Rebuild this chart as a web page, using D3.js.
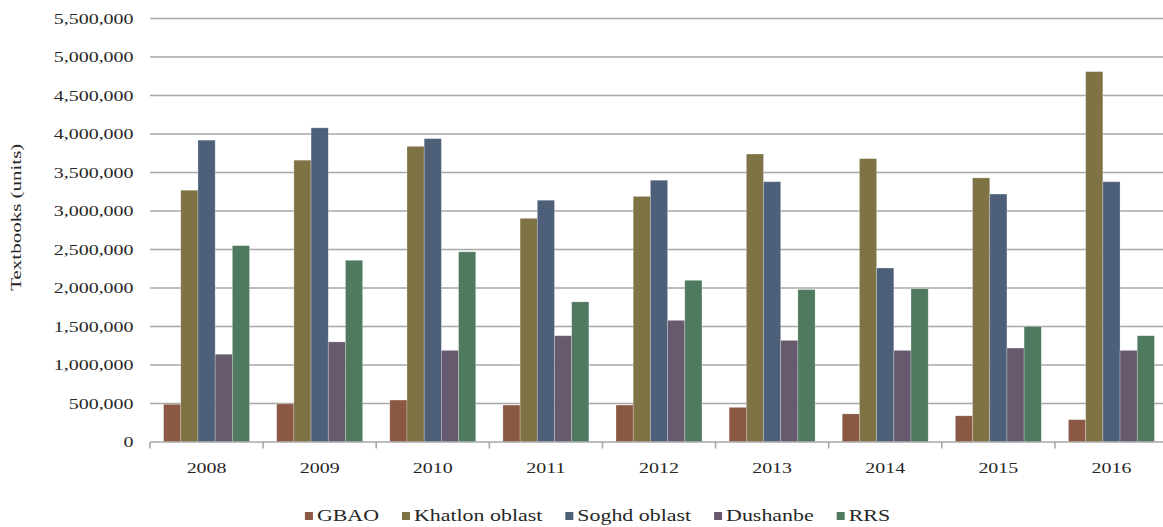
<!DOCTYPE html>
<html>
<head>
<meta charset="utf-8">
<script src="https://cdn.jsdelivr.net/npm/d3@7/dist/d3.min.js"></script>
<style>
  html, body { margin: 0; padding: 0; background: #fff; }
  svg { display: block; }
  text { font-family: "Liberation Serif", "Times New Roman", serif; fill: #262626; }
</style>
</head>
<body>
<svg id="chart" width="1163" height="527"></svg>
<script>
// Textbooks distributed per region, 2008–2016
const years = ["2008", "2009", "2010", "2011", "2012", "2013", "2014", "2015", "2016"];
const seriesNames = ["GBAO", "Khatlon oblast", "Soghd oblast", "Dushanbe", "RRS"];
const seriesColors = ["#8a5843", "#7f7346", "#4e6079", "#675a6e", "#4f7a5f"];

const gbao     = [490000, 495000, 545000, 480000, 480000, 450000, 365000, 340000, 290000];
const khatlon  = [3270000, 3660000, 3840000, 2905000, 3190000, 3740000, 3680000, 3430000, 4810000];
const soghd    = [3920000, 4080000, 3940000, 3140000, 3400000, 3380000, 2260000, 3220000, 3380000];
const dushanbe = [1140000, 1300000, 1190000, 1380000, 1580000, 1320000, 1190000, 1220000, 1190000];
const rrs      = [2550000, 2360000, 2470000, 1820000, 2100000, 1980000, 1990000, 1500000, 1380000];

const yTicks = [0, 500000, 1000000, 1500000, 2000000, 2500000, 3000000, 3500000, 4000000, 4500000, 5000000, 5500000];
const yTitle = "Textbooks (units)";

const seriesValues = [gbao, khatlon, soghd, dushanbe, rrs];

const svg = d3.select("#chart");
const W = 1163, H = 527;
const plot = { left: 150, right: 1168, top: 18.5, bottom: 442 };

const x0 = d3.scaleBand().domain(years).range([plot.left, plot.right]).paddingInner(0).paddingOuter(0);
const x1 = d3.scaleBand().domain(seriesNames).range([0, x0.bandwidth()]).paddingInner(0).paddingOuter(0.79);
const y = d3.scaleLinear().domain([0, 5500000]).range([plot.bottom, plot.top]);
const color = d3.scaleOrdinal().domain(seriesNames).range(seriesColors);
const fmt = d3.format(",");

const clip = svg.append("defs").append("clipPath").attr("id", "frame")
  .append("rect").attr("x", 0).attr("y", 0).attr("width", W).attr("height", H);

const root = svg.append("g").attr("clip-path", "url(#frame)");

// horizontal gridlines
root.append("g").selectAll("line").data(yTicks.filter(d => d > 0)).join("line")
  .attr("x1", plot.left).attr("x2", plot.right)
  .attr("y1", d => y(d)).attr("y2", d => y(d))
  .attr("stroke", "#a8a8a8").attr("stroke-width", 1.6);

// y tick labels (wide serif)
root.append("g").selectAll("text").data(yTicks).join("text")
  .attr("transform", d => `translate(133.5,${y(d)}) scale(1.33,1)`)
  .attr("text-anchor", "end").attr("dy", "0.35em")
  .style("font-size", "15px")
  .text(d => fmt(d));

// y axis title
root.append("text")
  .attr("transform", `translate(21,${(plot.top + plot.bottom) / 2 - 13}) rotate(-90) scale(1.4,1)`)
  .attr("text-anchor", "middle")
  .style("font-size", "15px")
  .text(yTitle);

// bars
const rows = years.map((yr, i) => ({ year: yr, values: seriesNames.map((s, k) => ({ series: s, value: seriesValues[k][i] })) }));
root.append("g").selectAll("g").data(rows).join("g")
  .attr("transform", d => `translate(${x0(d.year)},0)`)
  .selectAll("rect").data(d => d.values).join("rect")
  .attr("x", d => x1(d.series))
  .attr("width", x1.bandwidth())
  .attr("y", d => y(d.value))
  .attr("height", d => y(0) - y(d.value))
  .attr("fill", d => color(d.series))
  .attr("stroke", "rgba(255,255,255,0.35)")
  .attr("stroke-width", 0.7);

// x axis baseline and category ticks
root.append("line")
  .attr("x1", plot.left).attr("x2", plot.right)
  .attr("y1", y(0)).attr("y2", y(0))
  .attr("stroke", "#a8a8a8").attr("stroke-width", 1.6);

const boundaries = years.map(yr => x0(yr)).concat([x0(years[years.length - 1]) + x0.bandwidth()]);
root.append("g").selectAll("line").data(boundaries).join("line")
  .attr("x1", d => d).attr("x2", d => d)
  .attr("y1", y(0)).attr("y2", y(0) + 6.5)
  .attr("stroke", "#a8a8a8").attr("stroke-width", 1.6);

root.append("g").selectAll("text").data(years).join("text")
  .attr("transform", d => `translate(${x0(d) + x0.bandwidth() / 2},468) scale(1.33,1)`)
  .attr("text-anchor", "middle").attr("dy", "0.35em")
  .style("font-size", "15px")
  .text(d => d);

// legend, laid out from measured label widths and centred
const legend = root.append("g");
const sq = 8, sqGap = 4, itemGap = 23, lScale = 1.37;
const items = seriesNames.map(name => {
  const g = legend.append("g");
  g.append("rect").attr("width", sq).attr("height", sq).attr("y", -sq / 2 + 1).attr("fill", color(name));
  const t = g.append("text")
    .attr("transform", `translate(${sq + sqGap},0) scale(${lScale},1)`)
    .attr("dy", "0.35em")
    .style("font-size", "16px")
    .text(name);
  const w = t.node().getComputedTextLength() * lScale;
  return { g, width: sq + sqGap + w };
});
const total = d3.sum(items, d => d.width) + itemGap * (items.length - 1);
let cx = 597.5 - total / 2;
items.forEach(it => {
  it.g.attr("transform", `translate(${cx},515)`);
  cx += it.width + itemGap;
});
</script>
</body>
</html>
